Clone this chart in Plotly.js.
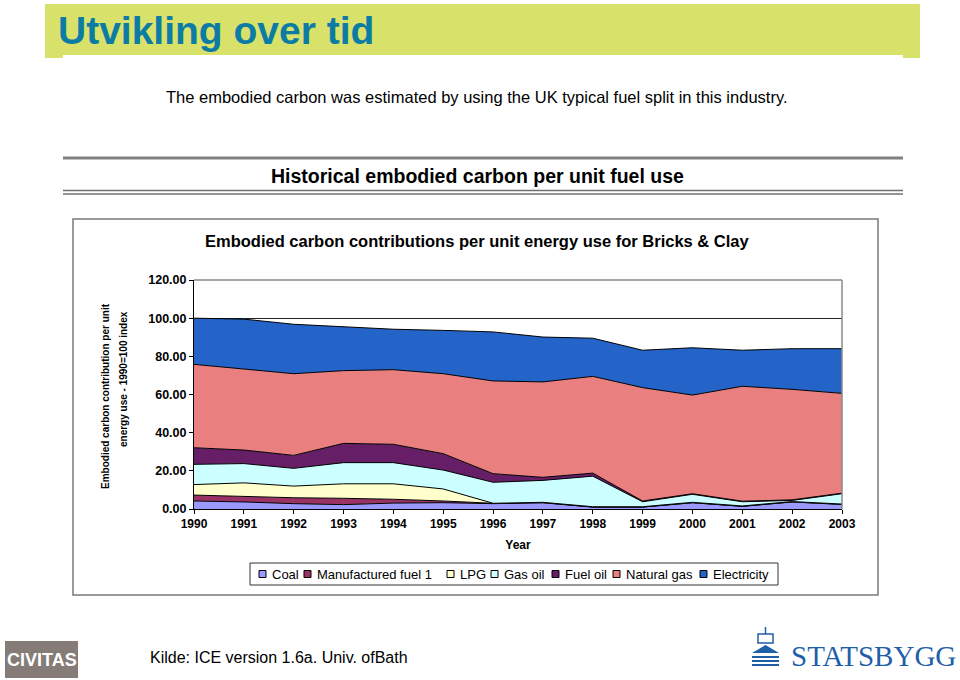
<!DOCTYPE html>
<html>
<head>
<meta charset="utf-8">
<script src="https://cdn.plot.ly/plotly-3.0.1.min.js"></script>
<style>html,body{margin:0;padding:0;background:#fff;}#chart{width:960px;height:680px;}</style>
</head>
<body>
<div id="chart"></div>
<script>
// ---- data ----
const years = [1990,1991,1992,1993,1994,1995,1996,1997,1998,1999,2000,2001,2002,2003];
const coal        = [4.2,3.7,2.8,2.3,3.1,3.3,2.8,3.3,1.0,1.0,3.3,1.4,3.7,2.4];
const manufFuel1  = [3.1,2.9,3.1,3.3,2.0,0.9,0.2,0.0,0.0,0.0,0.0,0.0,0.0,0.0];
const lpg         = [5.5,7.1,6.1,7.6,8.1,6.3,0.0,0.2,0.2,0.2,0.2,0.2,0.2,0.2];
const gasOil      = [10.6,10.1,9.3,11.1,11.1,9.9,11.0,11.5,16.0,2.6,4.2,2.2,0.6,5.4];
const fuelOil     = [8.7,7.1,6.8,10.1,9.6,8.6,4.5,1.6,1.6,0.4,0.3,0.3,0.3,0.3];
const naturalGas  = [43.7,42.6,42.8,38.1,39.1,41.9,48.6,50.0,50.7,59.4,51.7,60.2,57.9,52.3];
const electricity = [24.2,26.0,25.9,23.1,21.2,22.7,25.7,23.5,20.0,19.6,24.8,18.9,21.3,23.4];
const seriesNames = ["Coal","Manufactured fuel 1","LPG","Gas oil","Fuel oil","Natural gas","Electricity"];
const yTicks = [0,20,40,60,80,100,120];

// ---- styling ----
const seriesData = [coal,manufFuel1,lpg,gasOil,fuelOil,naturalGas,electricity];
const colors = ["#9999FF","#993366","#FFFFCC","#CCFFFF","#661F66","#EA7F7F","#2463C8"];

// layout helpers (pixel -> paper)
const L=194, R=842, T=280, B=509;
const PW=R-L, PH=B-T;
const X = p => (p-L)/PW;
const Y = p => (B-p)/PH;

const traces = seriesNames.map((n,i)=>({
  type:'scatter', mode:'lines', name:n, x:years, y:seriesData[i],
  stackgroup:'one', fillcolor:colors[i], showlegend:false,
  line:{color:'#000', width:1}, hoverinfo:'x+y+name'
}));

const sans = 'Arial, "Liberation Sans", sans-serif';
const ann = (x,y,text,opts) => Object.assign({xref:'paper',yref:'paper',x:X(x),y:Y(y),text:text,showarrow:false,xanchor:'center',yanchor:'middle'},opts||{});

const shapes = [
  // banner
  {type:'rect', xref:'paper', yref:'paper', x0:X(45), x1:X(920), y0:Y(4), y1:Y(58), fillcolor:'#D8E26A', line:{width:0}, layer:'below'},
  {type:'rect', xref:'paper', yref:'paper', x0:X(63), x1:X(903), y0:Y(55), y1:Y(62), fillcolor:'#FFFFFF', line:{width:0}, layer:'below'},
  // separators
  {type:'line', xref:'paper', yref:'paper', x0:X(63), x1:X(903), y0:Y(158), y1:Y(158), line:{color:'#808080', width:3}},
  {type:'line', xref:'paper', yref:'paper', x0:X(63), x1:X(903), y0:Y(190.5), y1:Y(190.5), line:{color:'#707070', width:1.5}},
  {type:'line', xref:'paper', yref:'paper', x0:X(63), x1:X(903), y0:Y(194), y1:Y(194), line:{color:'#707070', width:1.5}},
  // chart frame
  {type:'rect', xref:'paper', yref:'paper', x0:X(73), x1:X(878), y0:Y(219), y1:Y(595), line:{color:'#7a7a7a', width:1.5}, fillcolor:'rgba(0,0,0,0)'},
  // plot area top/right border
  {type:'line', xref:'paper', yref:'paper', x0:0, x1:1, y0:1, y1:1, line:{color:'#8a8a8a', width:1.5}},
  {type:'line', xref:'paper', yref:'paper', x0:1, x1:1, y0:0, y1:1, line:{color:'#8a8a8a', width:1.5}},
  // legend box
  {type:'rect', xref:'paper', yref:'paper', x0:X(250), x1:X(778), y0:Y(563), y1:Y(585), line:{color:'#333', width:1}, fillcolor:'#fff'},
  // CIVITAS logo box
  {type:'rect', xref:'paper', yref:'paper', x0:X(5), x1:X(78), y0:Y(641), y1:Y(678), fillcolor:'#857C78', line:{width:0}},
  // Statsbygg emblem
  {type:'rect', xref:'paper', yref:'paper', x0:X(758), x1:X(773), y0:Y(634), y1:Y(643), fillcolor:'rgba(0,0,0,0)', line:{color:'#1F5FA8', width:1.5}},
  {type:'line', xref:'paper', yref:'paper', x0:X(765.5), x1:X(765.5), y0:Y(627), y1:Y(634), line:{color:'#1F5FA8', width:1.5}},
  {type:'path', xref:'paper', yref:'paper', path:`M ${X(752)} ${Y(653)} L ${X(765.5)} ${Y(645)} L ${X(779)} ${Y(653)} Z`, fillcolor:'#1F5FA8', line:{width:0}},
  {type:'rect', xref:'paper', yref:'paper', x0:X(752), x1:X(779), y0:Y(656), y1:Y(658), fillcolor:'#1F5FA8', line:{width:0}},
  {type:'rect', xref:'paper', yref:'paper', x0:X(752), x1:X(779), y0:Y(660), y1:Y(662), fillcolor:'#1F5FA8', line:{width:0}},
  {type:'rect', xref:'paper', yref:'paper', x0:X(752), x1:X(779), y0:Y(664), y1:Y(666), fillcolor:'#1F5FA8', line:{width:0}}
];

const annotations = [
  ann(56,31,'<b>Utvikling over tid</b>',{xanchor:'left', font:{size:39, color:'#0D7CA4', family:sans}}),
  ann(477,97,'The embodied carbon was estimated by using the UK typical fuel split in this industry.',{font:{size:16.5, color:'#000', family:sans}}),
  ann(477,176,'<b>Historical embodied carbon per unit fuel use</b>',{font:{size:19.5, color:'#000', family:sans}}),
  ann(477,241,'<b>Embodied carbon contributions per unit energy use for Bricks &amp; Clay</b>',{font:{size:16.5, color:'#000'}}),
  ann(105,396,'<b>Embodied carbon contribution per unit</b>',{textangle:-90, font:{size:10, color:'#000'}}),
  ann(123,379,'<b>energy use - 1990=100 index</b>',{textangle:-90, font:{size:10, color:'#000'}}),
  ann(41.5,659.5,'<b>CIVITAS</b>',{font:{size:18, color:'#FFFFFF', family:sans}}),
  ann(148,657,'Kilde: ICE version 1.6a. Univ. ofBath',{xanchor:'left', font:{size:16, color:'#000'}}),
  ann(789,656,'STATSBYGG',{xanchor:'left', font:{size:29, color:'#1F5FA8', family:'"Liberation Serif", "DejaVu Serif", serif'}})
];

// custom legend (Excel-style small squares)
const legendTextX = [270,315,458,502,563,624,711];
legendTextX.forEach((tx,i)=>{
  shapes.push({type:'rect', xref:'paper', yref:'paper', x0:X(tx-11), x1:X(tx-4), y0:Y(570.5), y1:Y(577.5),
    fillcolor:colors[i], line:{color:'#000', width:1}});
  annotations.push(ann(tx,574,seriesNames[i],{xanchor:'left', font:{size:13, color:'#000', family:sans}}));
});

const layout = {
  width:960, height:680,
  margin:{l:L, r:960-R, t:T, b:680-B, pad:0},
  paper_bgcolor:'#fff', plot_bgcolor:'#fff',
  font:{family:sans, color:'#000'},
  showlegend:false,
  xaxis:{type:'linear', range:[1990,2003], tickvals:years, ticktext:years.map(String),
    ticks:'outside', ticklen:4, tickcolor:'#000', showline:true, linecolor:'#000', linewidth:1,
    showgrid:false, zeroline:false, fixedrange:true,
    tickfont:{size:12, family:sans, weight:'bold'},
    title:{text:'<b>Year</b>', font:{size:12}, standoff:10}},
  yaxis:{range:[0,120], tickvals:yTicks, tickformat:'.2f', ticks:'outside', ticklen:4,
    tickcolor:'#000', showline:true, linecolor:'#000', linewidth:1,
    showgrid:true, gridcolor:'#222', gridwidth:1, zeroline:false, fixedrange:true,
    tickfont:{size:12.5, family:sans, weight:'bold'}},
  shapes:shapes,
  annotations:annotations
};

Plotly.newPlot('chart', traces, layout, {displayModeBar:false, staticPlot:true});
</script>
</body>
</html>
